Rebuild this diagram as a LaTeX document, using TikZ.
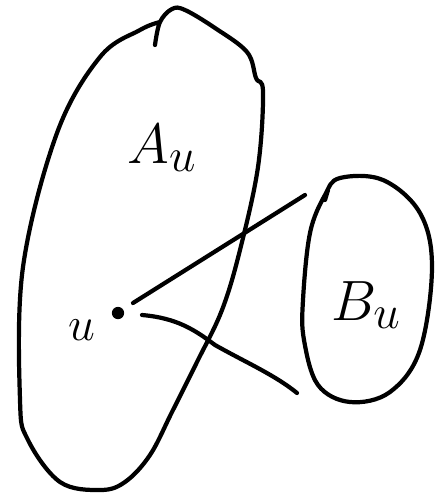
\documentclass[tikz,border=0pt]{standalone}
\usepackage{graphicx}
\usetikzlibrary{positioning,calc}
\tikzset{
  pen/.style={line width=2.4pt, line cap=round, line join=round},
  setlbl/.style={font=\Huge, inner sep=0pt}}
\newcommand{\biglbl}[1]{\scalebox{1.3}{$#1$}}

\begin{document}
\begin{tikzpicture}[x=0.02cm, y=-0.02cm,
  dot/.style={circle, fill, inner sep=0pt, minimum size=7pt},
  ptlbl/.style={font=\Huge, inner sep=0pt}]
\useasboundingbox (0,0) rectangle (435,498);
% the set A_u
\draw[pen] plot[smooth, tension=0.6] coordinates {(155,45) (160,22) (172,9) (185,10) (215,28) (247,52) (256,78) (263,92)
  (258,167) (240,250) (222,310) (197,362) (172,412) (150,455) (125,482) (100,490) (60,482) (28,440) (20,400) (23,267) (57,133) (100,57) (140,30) (160,22)};
% the set B_u
\draw[pen] plot[smooth cycle, tension=0.6] coordinates {(340,178) (383,180) (420,213) (432,267) (420,350) (390,392) (350,402)
  (318,385) (304,340) (303,300) (310,233) (325,195)};
\draw[pen] (328,190) -- (325,200);
\node[setlbl] (Au) at (162,148) {\biglbl{A_u}};
\node[setlbl] (Bu) at (366,305) {\biglbl{B_u}};
\node[dot] (u) at (118,313) {};
\node[ptlbl] (ul) at (82,330) {\scalebox{1.1}{$u$}};
\coordinate (e1) at (305,195);
\coordinate (e2) at (297,393);
\draw[pen] ($(u)+(15,-10)$) -- (e1);
\draw[pen] ($(u)+(24,2)$) .. controls (177,318) and (195,330) .. (215,345) .. controls (245,362) and (275,375) .. (e2);
\end{tikzpicture}
\end{document}
